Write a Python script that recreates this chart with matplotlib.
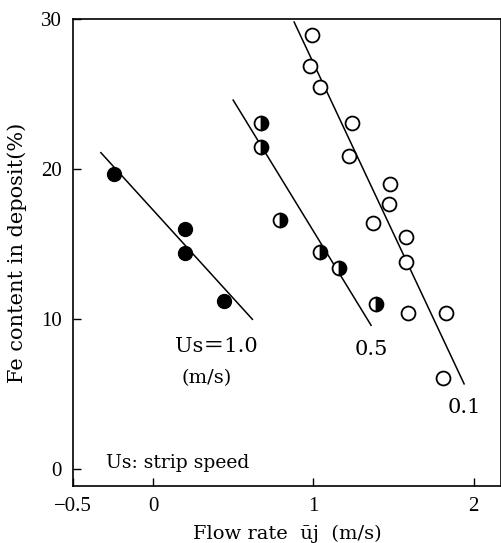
import matplotlib
matplotlib.use("Agg")
import matplotlib.pyplot as plt

plt.rcParams['font.family'] = ['Liberation Serif', 'Noto Sans CJK JP', 'DejaVu Sans']

# Us = 1.0 m/s (filled)
x_10 = [-0.244, 0.20, 0.20, 0.44]
y_10 = [19.7, 16.0, 14.4, 11.2]
fit_10_x = [-0.325, 0.62]
fit_10_y = [21.1, 10.0]

# Us = 0.5 m/s (half filled)
x_05 = [0.675, 0.675, 0.79, 1.04, 1.16, 1.39]
y_05 = [23.1, 21.5, 16.6, 14.5, 13.4, 11.0]
fit_05_x = [0.50, 1.36]
fit_05_y = [24.6, 9.6]

# Us = 0.1 m/s (open)
x_01 = [0.99, 0.98, 1.04, 1.24, 1.225, 1.48, 1.47, 1.375, 1.58, 1.58, 1.59, 1.825, 1.81]
y_01 = [28.95, 26.9, 25.5, 23.1, 20.9, 19.0, 17.7, 16.4, 15.5, 13.8, 10.4, 10.4, 6.1]
fit_01_x = [0.88, 1.94]
fit_01_y = [29.8, 5.7]

xticks = [-0.5, 0, 1, 2]
xticklabels = ['\u22120.5', '0', '1', '2']
yticks = [0, 10, 20, 30]
yticklabels = ['0', '10', '20', '30']

SERIF = ['DejaVu Serif', 'Noto Sans CJK JP']

fig = plt.figure(figsize=(5.02, 5.43), dpi=100)
ax = fig.add_axes([0.145, 0.105, 0.853, 0.86])

ax.plot(fit_10_x, fit_10_y, color='black', lw=1.1, zorder=1)
ax.plot(fit_05_x, fit_05_y, color='black', lw=1.1, zorder=1)
ax.plot(fit_01_x, fit_01_y, color='black', lw=1.1, zorder=1)

ax.plot(x_10, y_10, 'o', ms=10, mfc='black', mec='black', zorder=3)
ax.plot(x_05, y_05, 'o', ms=10, fillstyle='right', mfc='black', mfcalt='white',
        mec='black', mew=1.3, zorder=3)
ax.plot(x_01, y_01, 'o', ms=10, mfc='white', mec='black', mew=1.3, zorder=3)

ax.set_xlim(-0.5, 2.17)
ax.set_ylim(-1.1, 29.8)
ax.set_xticks(xticks)
ax.set_xticklabels(xticklabels)
ax.set_yticks(yticks)
ax.set_yticklabels(yticklabels)
ax.tick_params(direction='in', length=6, width=1, labelsize=15, pad=8)

ax.text(0.14, 8.2, 'Us\uff1d1.0', fontsize=15, va='center', ha='left', family=SERIF)
ax.text(0.175, 6.1, '(m/s)', fontsize=14, va='center', ha='left', family=SERIF)
ax.text(1.26, 8.0, '0.5', fontsize=15, va='center', ha='left', family=SERIF)
ax.text(1.84, 4.1, '0.1', fontsize=15, va='center', ha='left', family=SERIF)
ax.text(-0.29, 0.45, 'Us: strip speed', fontsize=13.5, va='center', ha='left', family=SERIF)

ax.set_xlabel('Flow rate  \u016bj  (m/s)', fontsize=14, labelpad=6, family=SERIF)
ax.set_ylabel('Fe content in deposit(%)', fontsize=15, labelpad=10, family=SERIF)

for s in ax.spines.values():
    s.set_linewidth(1.2)

fig.savefig('out.png', dpi=100)
